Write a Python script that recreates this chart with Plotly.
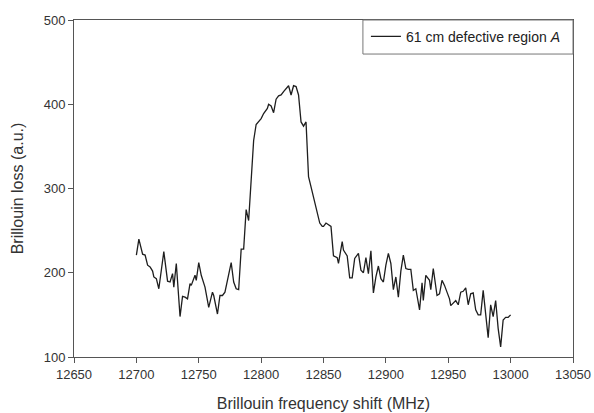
import plotly.graph_objects as go

freq_mhz = [12700, 12702, 12705, 12707, 12709, 12711, 12713, 12714, 12716, 12718,
            12722, 12725, 12727, 12729, 12730, 12732, 12735, 12737, 12739, 12741,
            12743, 12744, 12747, 12748, 12750, 12752, 12755, 12758, 12761, 12762,
            12765, 12767, 12769, 12771, 12773, 12776, 12778, 12780, 12782, 12784,
            12786, 12788, 12790, 12792, 12794, 12796, 12798, 12800, 12802, 12805,
            12806, 12808, 12810, 12812, 12814, 12816, 12818, 12820, 12822, 12824,
            12826, 12828, 12830, 12832, 12834, 12836, 12838, 12840, 12843, 12845,
            12847, 12849, 12850, 12852, 12854, 12856, 12858, 12861, 12862, 12865,
            12866, 12869, 12871, 12873, 12875, 12877, 12878, 12880, 12882, 12884,
            12886, 12888, 12890, 12892, 12894, 12896, 12898, 12900, 12902, 12904,
            12906, 12908, 12910, 12912, 12914, 12916, 12918, 12920, 12922, 12924,
            12927, 12929, 12930, 12932, 12935, 12936, 12938, 12941, 12943, 12945,
            12947, 12949, 12951, 12952, 12954, 12956, 12958, 12960, 12962, 12964,
            12966, 12968, 12970, 12972, 12974, 12976, 12978, 12980, 12982, 12984,
            12986, 12988, 12990, 12992, 12994, 12996, 12998, 13000]

loss_au = [221, 240, 222, 221, 209, 207, 202, 195, 193, 181,
           225, 190, 189, 199, 183, 211, 148, 172, 171, 169,
           187, 185, 197, 191, 212, 197, 183, 159, 177, 173,
           151, 173, 173, 177, 191, 212, 189, 181, 180, 228,
           228, 275, 262, 310, 357, 376, 379, 383, 389, 395,
           400, 398, 390, 406, 410, 411, 415, 419, 422, 411,
           422, 421, 411, 379, 374, 379, 314, 302, 282, 270,
           259, 255, 255, 259, 257, 255, 220, 218, 211, 237,
           227, 220, 194, 194, 217, 221, 223, 203, 200, 218,
           199, 226, 176, 195, 208, 193, 189, 209, 223, 211,
           180, 195, 171, 202, 221, 205, 204, 204, 179, 181,
           156, 188, 167, 197, 191, 180, 205, 173, 175, 191,
           185, 177, 169, 161, 164, 167, 162, 177, 178, 182,
           162, 175, 176, 156, 150, 150, 179, 154, 123, 162,
           148, 167, 134, 112, 144, 147, 147, 150]

x_ticks = [12650, 12700, 12750, 12800, 12850, 12900, 12950, 13000, 13050]
y_ticks = [100, 200, 300, 400, 500]

series_name = "61 cm defective region <i>A</i>"

fig = go.Figure()
fig.add_trace(go.Scatter(
    x=freq_mhz, y=loss_au, mode="lines", name=series_name,
    line=dict(color="#1e1e1e", width=1.3),
    showlegend=True,
))

axis_common = dict(
    showline=True, linecolor="#555555", linewidth=1, mirror=True,
    ticks="outside", ticklen=5, tickcolor="#555555", tickwidth=1,
    showgrid=False, zeroline=False, automargin=False,
    tickformat="d",
    tickfont=dict(family="Liberation Sans, Arial", size=13, color="#333333"),
)

fig.update_layout(
    width=594, height=413,
    margin=dict(l=74, r=21, t=20, b=56),
    paper_bgcolor="white", plot_bgcolor="white",
    font=dict(family="Liberation Sans, Arial", color="#333333"),
    xaxis=dict(range=[12650, 13050], tickvals=x_ticks,
               title=dict(text="Brillouin frequency shift (MHz)",
                          font=dict(size=16, color="#333333"), standoff=17),
               **axis_common),
    yaxis=dict(range=[100, 500], tickvals=y_ticks,
               title=dict(text="Brillouin loss (a.u.)",
                          font=dict(size=16, color="#333333"), standoff=16),
               **axis_common),
    legend=dict(x=0.585, y=0.95, xanchor="left", yanchor="middle",
                borderwidth=0, bgcolor="rgba(0,0,0,0)", itemwidth=30,
                font=dict(size=14, color="#222222")),
    shapes=[dict(type="rect", xref="paper", yref="paper",
                 x0=0.579, x1=1, y0=0.899, y1=1,
                 line=dict(color="#777777", width=1), fillcolor="rgba(0,0,0,0)")],
)

fig.write_html("out.html", config={"displayModeBar": False},
               post_script="document.body.style.margin='0';document.body.style.overflow='hidden';")
